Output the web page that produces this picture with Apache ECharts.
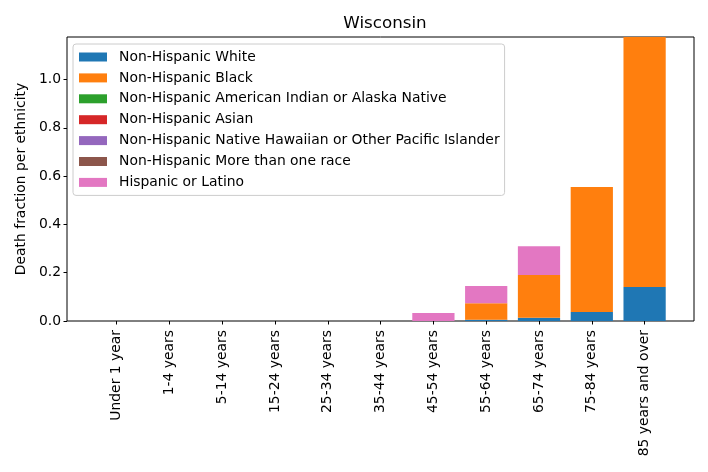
<!DOCTYPE html>
<html>
<head>
<meta charset="utf-8">
<script src="https://cdn.jsdelivr.net/npm/echarts@6/dist/echarts.min.js"></script>
<style>
html, body { margin: 0; padding: 0; background: #fff; }
#chart { width: 708px; height: 472px; }
</style>
</head>
<body>
<div id="chart"></div>
<script>
var categories = ['Under 1 year', '1-4 years', '5-14 years', '15-24 years', '25-34 years',
    '35-44 years', '45-54 years', '55-64 years', '65-74 years', '75-84 years', '85 years and over'];
var seriesNames = ['Non-Hispanic White', 'Non-Hispanic Black', 'Non-Hispanic American Indian or Alaska Native',
    'Non-Hispanic Asian', 'Non-Hispanic Native Hawaiian or Other Pacific Islander',
    'Non-Hispanic More than one race', 'Hispanic or Latino'];
var white    = [0, 0, 0, 0, 0, 0, 0, 0.005, 0.013, 0.037, 0.141];
var black    = [0, 0, 0, 0, 0, 0, 0, 0.069, 0.177, 0.518, 1.035];
var aian     = [0, 0, 0, 0, 0, 0, 0, 0, 0, 0, 0];
var asian    = [0, 0, 0, 0, 0, 0, 0, 0, 0, 0, 0];
var nhpi     = [0, 0, 0, 0, 0, 0, 0, 0, 0, 0, 0];
var multi    = [0, 0, 0, 0, 0, 0, 0, 0, 0, 0, 0];
var hispanic = [0, 0, 0, 0, 0, 0, 0.033, 0.071, 0.12, 0, 0];
var yTicks = [0, 0.2, 0.4, 0.6, 0.8, 1.0];
var yMax = 1.176;

var colors = ['#1f77b4', '#ff7f0e', '#2ca02c', '#d62728', '#9467bd', '#8c564b', '#e377c2'];
var values = [white, black, aian, asian, nhpi, multi, hispanic];

var chart = echarts.init(document.getElementById('chart'));
var font = 'DejaVu Sans';

var series = seriesNames.map(function (name, i) {
    return {
        name: name,
        type: 'bar',
        stack: 'total',
        xAxisIndex: 1,
        yAxisIndex: 1,
        barWidth: '80%',
        itemStyle: { color: colors[i] },
        emphasis: { disabled: true },
        data: values[i]
    };
});

var option = {
    animation: false,
    color: colors,
    textStyle: { fontFamily: font },
    title: {
        text: 'Wisconsin',
        left: 380, textAlign: 'center', top: 10,
        textStyle: { fontFamily: font, fontSize: 16.7, fontWeight: 'normal', color: '#000' }
    },
    legend: {
        orient: 'vertical',
        left: 73, top: 44,
        padding: [6, 5, 6, 6],
        itemWidth: 28, itemHeight: 9,
        itemGap: 6.9,
        icon: 'rect',
        borderColor: '#cccccc', borderWidth: 1, borderRadius: 3,
        backgroundColor: 'rgba(255,255,255,0.8)',
        textStyle: { fontFamily: font, fontSize: 13.9, color: '#000', padding: [0, 0, 0, 7] },
        data: seriesNames
    },
    grid: [
        { left: 67, right: 14, top: 37, bottom: 151, show: true, borderColor: '#000', borderWidth: 1, backgroundColor: 'transparent' },
        { left: 90.2, width: 580.8, top: 37, bottom: 151 }
    ],
    xAxis: [
        { type: 'value', gridIndex: 0, show: false, min: 0, max: 1 },
        {
            type: 'category', gridIndex: 1, data: categories,
            axisLine: { show: false },
            axisTick: { show: true, alignWithLabel: true, length: 3.5, lineStyle: { color: '#000' } },
            axisLabel: { rotate: 90, margin: 9, fontFamily: font, fontSize: 13.9, color: '#000', interval: 0 }
        }
    ],
    yAxis: [
        {
            type: 'value', gridIndex: 0, min: 0, max: yMax, interval: yTicks[1] - yTicks[0],
            name: 'Death fraction per ethnicity', nameLocation: 'middle', nameGap: 39,
            nameTextStyle: { fontFamily: font, fontSize: 13.9, color: '#000' },
            axisLine: { show: false },
            axisTick: { show: true, length: 3.5, lineStyle: { color: '#000' } },
            axisLabel: {
                showMaxLabel: false, margin: 6, fontFamily: font, fontSize: 13.9, color: '#000',
                formatter: function (v) { return v.toFixed(1); }
            },
            splitLine: { show: false }
        },
        { type: 'value', gridIndex: 1, min: 0, max: yMax, show: false, splitLine: { show: false } }
    ],
    series: series
};
chart.setOption(option);
</script>
</body>
</html>
